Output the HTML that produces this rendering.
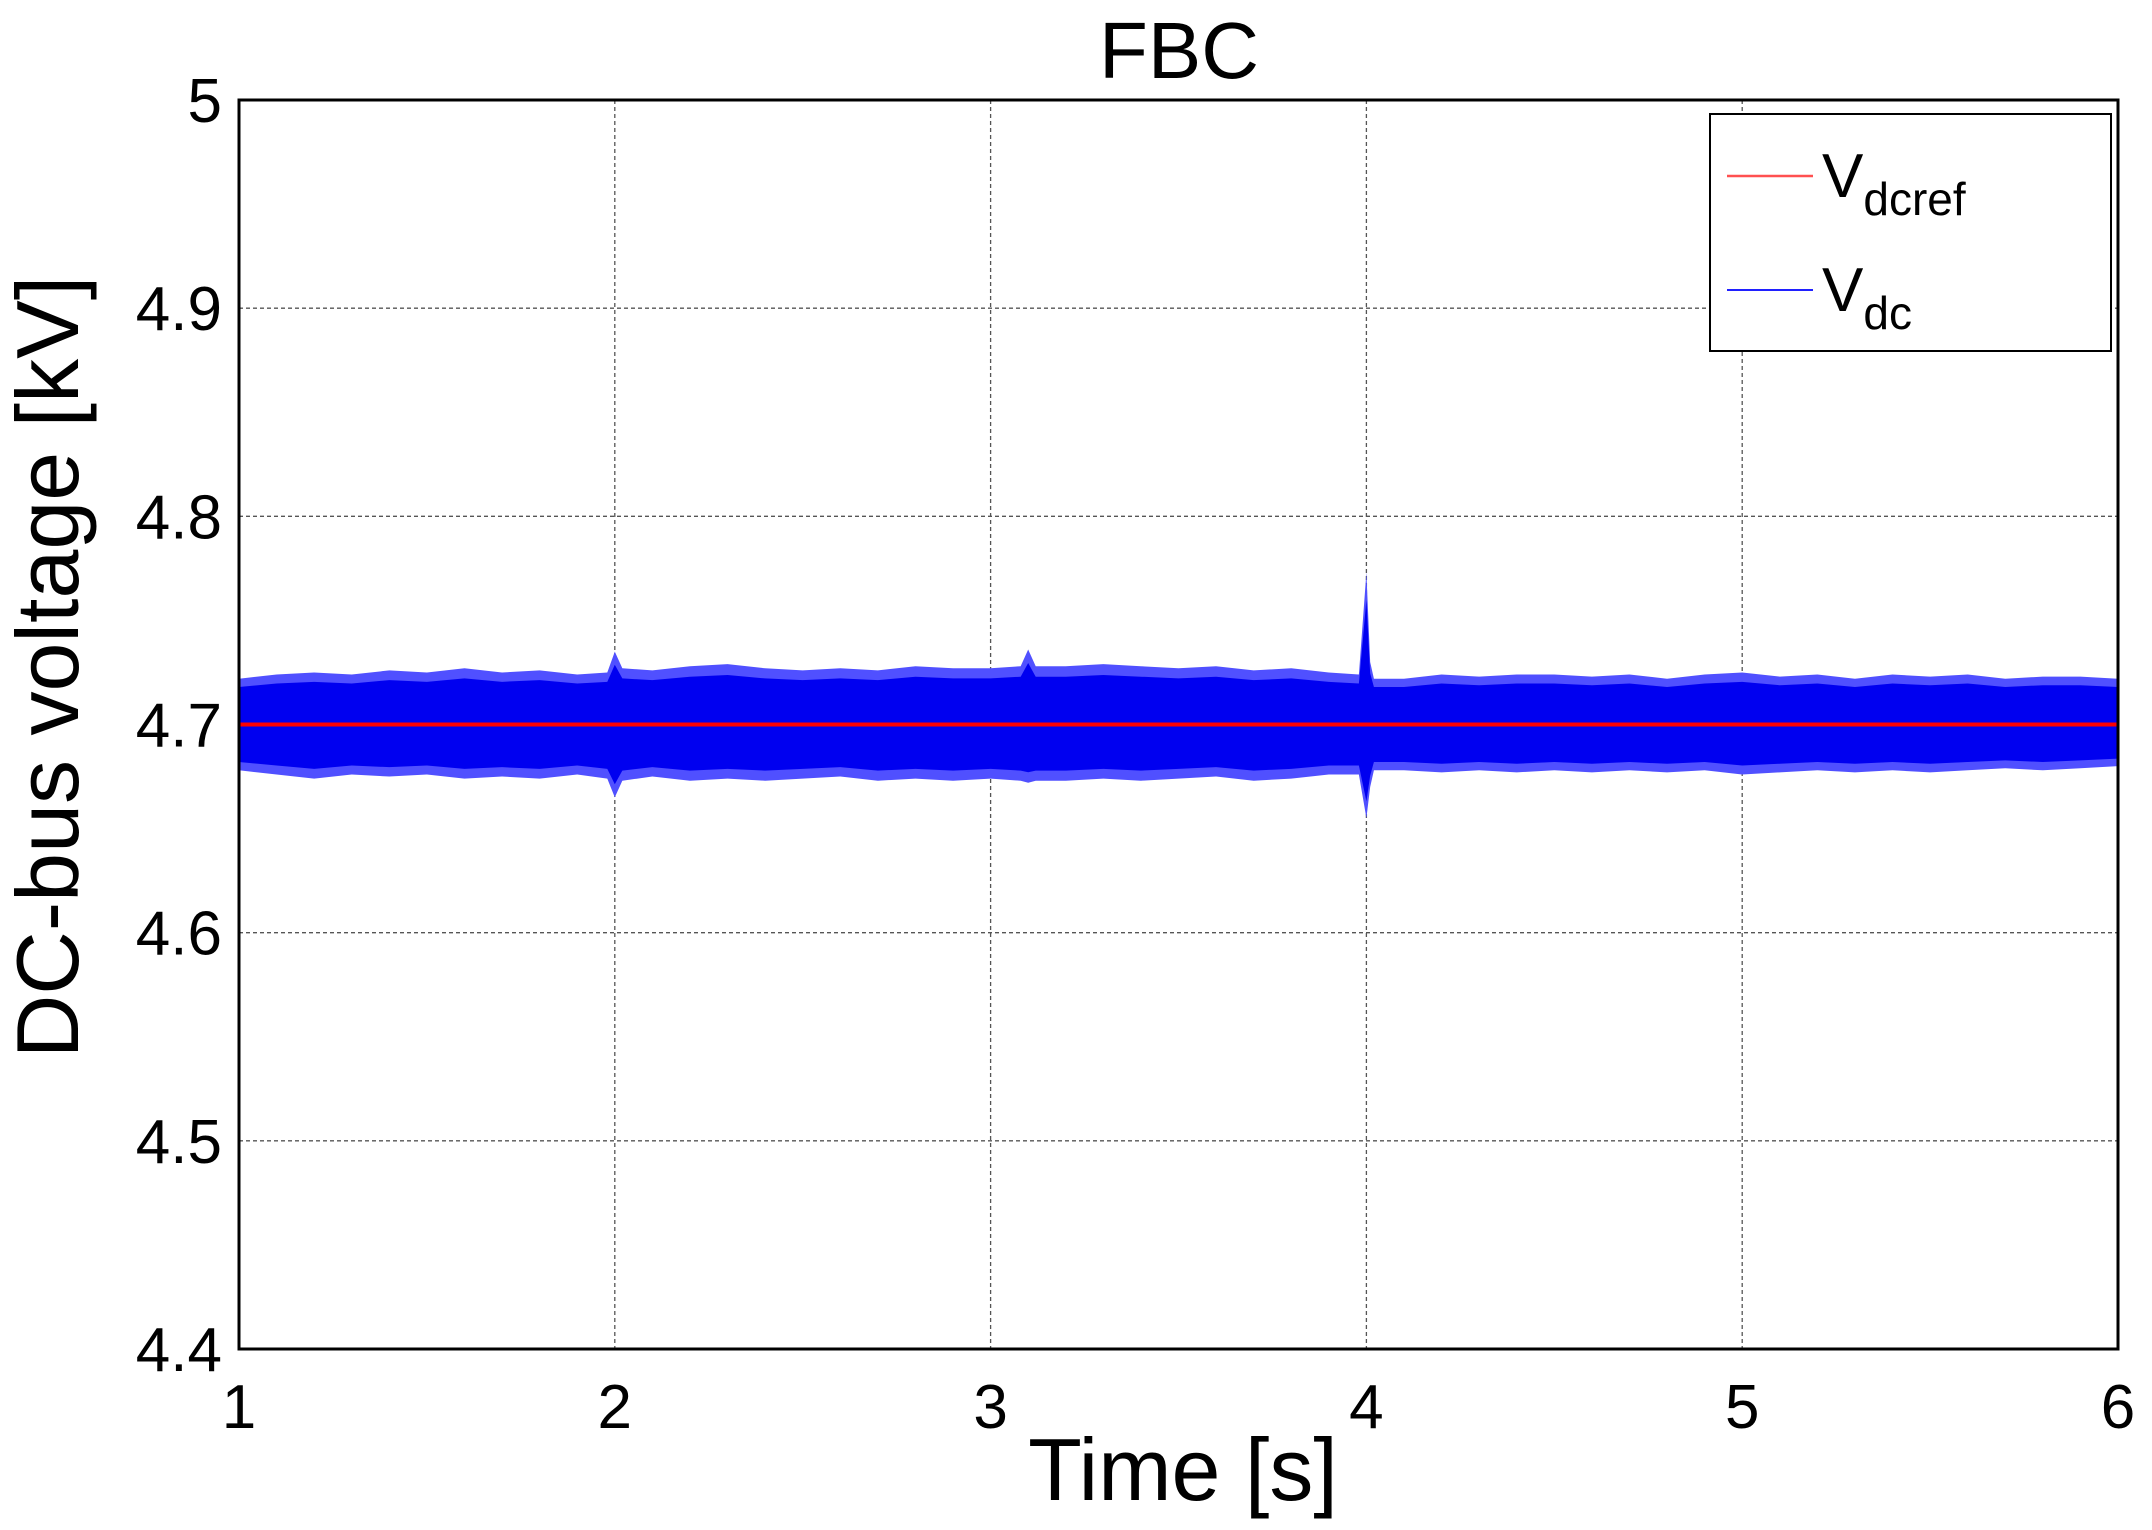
<!DOCTYPE html>
<html><head><meta charset="utf-8"><style>
html,body{margin:0;padding:0;background:#fff;}
svg{display:block;font-family:"Liberation Sans",Arial,sans-serif;}
</style></head><body>
<svg id="chart" width="2152" height="1530" viewBox="0 0 2152 1530" xmlns="http://www.w3.org/2000/svg">
<rect width="2152" height="1530" fill="#fff"/>
<g id="grid"></g>
<g id="series"></g>
<rect x="239" y="100" width="1879" height="1249" fill="none" stroke="#000" stroke-width="3"/>
<g id="ticks"></g>
<text x="1179" y="78" font-size="80" text-anchor="middle">FBC</text>
<text x="1183" y="1500" font-size="88" text-anchor="middle">Time [s]</text>
<text transform="translate(78,667) rotate(-90)" font-size="88" text-anchor="middle">DC-bus voltage [kV]</text>
<g>
<rect x="1710" y="114" width="401" height="237" fill="#fff" stroke="#000" stroke-width="2"/>
<line x1="1727" y1="176" x2="1813" y2="176" stroke="#ff5050" stroke-width="2.5"/>
<text x="1822" y="197" font-size="62">V<tspan font-size="46" dy="18">dcref</tspan></text>
<line x1="1727" y1="290" x2="1813" y2="290" stroke="#2020ff" stroke-width="2"/>
<text x="1822" y="311" font-size="62">V<tspan font-size="46" dy="18">dc</tspan></text>
</g>
</svg>
<script>
const xTicks=[1,2,3,4,5,6];
const yTicks=[4.4,4.5,4.6,4.7,4.8,4.9,5];
const yTickLabels=["4.4","4.5","4.6","4.7","4.8","4.9","5"];
const times=[1.0,1.1,1.2,1.3,1.4,1.5,1.6,1.7,1.8,1.9,1.98,2.0,2.02,2.1,2.2,2.3,2.4,2.5,2.6,2.7,2.8,2.9,3.0,3.08,3.1,3.12,3.2,3.3,3.4,3.5,3.6,3.7,3.8,3.9,3.98,4.0,4.01,4.02,4.1,4.2,4.3,4.4,4.5,4.6,4.7,4.8,4.9,5.0,5.1,5.2,5.3,5.4,5.5,5.6,5.7,5.8,5.9,6.0];
const vdcUpper=[4.722,4.724,4.725,4.724,4.726,4.725,4.727,4.725,4.726,4.724,4.725,4.735,4.727,4.726,4.728,4.729,4.727,4.726,4.727,4.726,4.728,4.727,4.727,4.728,4.736,4.728,4.728,4.729,4.728,4.727,4.728,4.726,4.727,4.725,4.724,4.773,4.730,4.722,4.722,4.724,4.723,4.724,4.724,4.723,4.724,4.722,4.724,4.725,4.723,4.724,4.722,4.724,4.723,4.724,4.722,4.723,4.723,4.722];
const vdcLower=[4.678,4.676,4.674,4.676,4.675,4.676,4.674,4.675,4.674,4.676,4.674,4.665,4.673,4.675,4.673,4.674,4.673,4.674,4.675,4.673,4.674,4.673,4.674,4.673,4.672,4.673,4.673,4.674,4.673,4.674,4.675,4.673,4.674,4.676,4.676,4.655,4.670,4.678,4.678,4.677,4.678,4.677,4.678,4.677,4.678,4.677,4.678,4.676,4.677,4.678,4.677,4.678,4.677,4.678,4.679,4.678,4.679,4.680];
const vdcrefValue=4.7;
const X0=239,X1=2118,Y0=100,Y1=1349;
const xs=v=>X0+(v-1)/5*(X1-X0);
const ys=v=>Y1-(v-4.4)/0.6*(Y1-Y0);
const NS="http://www.w3.org/2000/svg";
const grid=document.getElementById('grid'),ticks=document.getElementById('ticks'),series=document.getElementById('series');
function mk(tag,attrs,parent){const e=document.createElementNS(NS,tag);for(const k in attrs)e.setAttribute(k,attrs[k]);parent.appendChild(e);return e;}
xTicks.forEach(t=>{
  if(t>1&&t<6){const g=mk('line',{x1:xs(t),x2:xs(t),y1:Y0,y2:Y1,stroke:'#555','stroke-width':1.3,'stroke-dasharray':'4,3'},grid);
  
  }
  const tl=mk('text',{x:xs(t),y:1428,'font-size':62,'text-anchor':'middle'},ticks);tl.textContent=t;
  
  
});
yTicks.forEach((t,i)=>{
  if(i>0&&i<yTicks.length-1){const g=mk('line',{x1:X0,x2:X1,y1:ys(t),y2:ys(t),stroke:'#555','stroke-width':1.3,'stroke-dasharray':'4,3'},grid);
  
  }
  const tl=mk('text',{x:222,y:ys(t)+22,'font-size':62,'text-anchor':'end'},ticks);tl.textContent=yTickLabels[i];
  
  
});
let pts=times.map((t,i)=>xs(t)+','+ys(vdcUpper[i]));
for(let i=times.length-1;i>=0;i--)pts.push(xs(times[i])+','+ys(vdcLower[i]));
const band=mk('polygon',{points:pts.join(' '),fill:'#5050ff'},series);


let pts2=times.map((t,i)=>xs(t)+','+ys(vdcrefValue+(vdcUpper[i]-vdcrefValue)*0.82));
for(let i=times.length-1;i>=0;i--)pts2.push(xs(times[i])+','+ys(vdcrefValue+(vdcLower[i]-vdcrefValue)*0.82));
const core=mk('polygon',{points:pts2.join(' '),fill:'#0000f0'},series);


const ref=mk('line',{x1:xs(1),x2:xs(6),y1:ys(vdcrefValue),y2:ys(vdcrefValue),stroke:'#ff0000','stroke-width':4},series);


</script>
</body></html>
